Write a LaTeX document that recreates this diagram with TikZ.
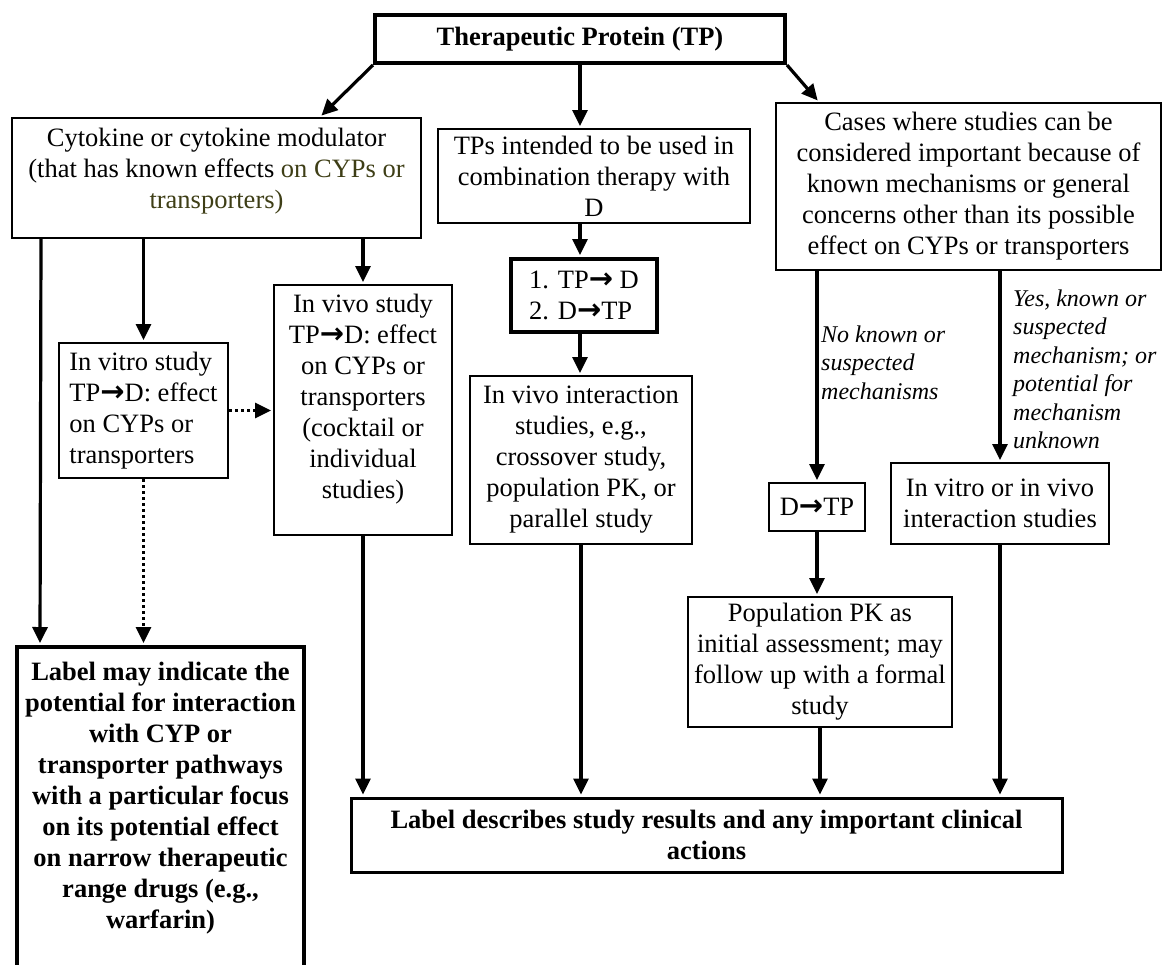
\documentclass[tikz,border=0pt]{standalone}
\usepackage{fontspec}
\setmainfont{Liberation Serif}
\newfontfamily\arrowfont{DejaVu Sans}
\usetikzlibrary{arrows.meta}
\definecolor{cypolive}{RGB}{62,62,22}
\newcommand{\ra}{{\arrowfont\bfseries\fontsize{29}{31}\selectfont →}}
\newcommand{\topbox}[3]{\parbox[c][#1][t]{#2}{\centering #3}}
\begin{document}
\begin{tikzpicture}[x=1pt,y=-1pt,
    box/.style={draw,line width=2pt,inner sep=0pt,align=center,font=\fontsize{26.5}{31}\selectfont},
    heavy box/.style={box,line width=4pt,font=\fontsize{26.5}{31}\selectfont\bfseries},
    note/.style={inner sep=0pt,anchor=north west,align=left,font=\fontsize{24}{28.5}\selectfont\itshape},
    arrow/.style={line width=3.2pt,-{Triangle[length=16pt,width=15pt]},shorten >=2pt},
    dotted arrow/.style={arrow,dash pattern=on 3pt off 3pt}]
  \useasboundingbox (0,0) rectangle (1172,964);
  \clip (0,0) rectangle (1172,964);

  \node[heavy box,minimum width=410,minimum height=48] (tp) at (580,39) {Therapeutic Protein (TP)};

  \node[box,minimum width=409,minimum height=120,inner sep=10pt] (cyto) at (216.5,178)
    {\topbox{100pt}{389pt}{Cytokine or cytokine modulator\\(that has known effects \textcolor{cypolive}{on CYPs or}\\\textcolor{cypolive}{transporters)}}};
  \node[box,minimum width=312,minimum height=94] (tps) at (594,176) {TPs intended to be used in\\combination therapy with\\D};
  \node[box,minimum width=385,minimum height=167] (cases) at (968.5,186.5)
    {Cases where studies can be\\considered important because of\\known mechanisms or general\\concerns other than its possible\\effect on CYPs or transporters};

  \node[box,line width=4pt,minimum width=146,minimum height=73,align=left] (twelve) at (584,295.5) {1. TP\ra{} D\\2. D\ra TP};
  \node[box,minimum width=178,minimum height=250,inner sep=9pt] (invivo) at (363,410)
    {\topbox{232pt}{160pt}{In vivo study\\TP\ra D: effect\\on CYPs or\\transporters\\(cocktail or\\individual\\studies)}};
  \node[box,minimum width=169,minimum height=135,align=left] (invitro) at (143.5,410.5) {In vitro study\\TP\ra D: effect\\on CYPs or\\transporters};
  \node[box,minimum width=222,minimum height=168] (inter) at (581,460)
    {In vivo interaction\\studies, e.g.,\\crossover study,\\population PK, or\\parallel study};

  \node[box,minimum width=96,minimum height=48] (dtp) at (817,507) {D\ra TP};
  \node[box,minimum width=218,minimum height=81] (invv) at (1000,503.5) {In vitro or in vivo\\interaction studies};
  \node[box,minimum width=264,minimum height=130] (pop) at (820,662) {Population PK as\\initial assessment; may\\follow up with a formal\\study};

  \node[heavy box,line width=3pt,minimum width=711,minimum height=74] (result) at (706.5,835)
    {Label describes study results and any important clinical\\actions};
  \node[heavy box,minimum width=287,minimum height=340,inner xsep=5pt,inner ysep=15pt] (lbl) at (160.5,817)
    {\topbox{310pt}{277pt}{Label may indicate the\\potential for interaction\\with CYP or\\transporter pathways\\with a particular focus\\on its potential effect\\on narrow therapeutic\\range drugs (e.g.,\\warfarin)}};

  \node[note] (nolab) at (821,325.5) {No known or\\suspected\\mechanisms};
  \node[note] (yeslab) at (1013,289.5) {Yes, known or\\suspected\\mechanism; or\\potential for\\mechanism\\unknown};

  % from the protein
  \draw[arrow] (tp.south west) -- ([xshift=309]cyto.north west);
  \draw[arrow] ([yshift=4]tp.south) -- (tp.south |- tps.north);
  \draw[arrow] (tp.south east) -- ([xshift=44]cases.north west);

  % cytokine branch
  \draw[arrow] ([xshift=30]cyto.south west) -- ([xshift=25]lbl.north west);
  \draw[arrow] (invitro.north |- cyto.south) -- (invitro.north);
  \draw[arrow] (invivo.north |- cyto.south) -- (invivo.north);
  \draw[dotted arrow] (invitro.east) -- (invitro.east -| invivo.west);
  \draw[dotted arrow] (invitro.south) -- (invitro.south |- lbl.north);
  \draw[arrow] (invivo.south) -- (invivo.south |- result.north);

  % combination branch
  \draw[arrow] (tp.south |- tps.south) -- (tp.south |- twelve.north);
  \draw[arrow] (tp.south |- twelve.south) -- (tp.south |- inter.north);
  \draw[arrow] (inter.south) -- (inter.south |- result.north);

  % other cases
  \draw[arrow] (dtp.north |- cases.south) -- (dtp.north);
  \draw[arrow] (dtp.south) -- (dtp.south |- pop.north);
  \draw[arrow] (pop.south) -- (pop.south |- result.north);
  \draw[arrow] (invv.north |- cases.south) -- (invv.north);
  \draw[arrow] (invv.south) -- (invv.south |- result.north);
\end{tikzpicture}
\end{document}
